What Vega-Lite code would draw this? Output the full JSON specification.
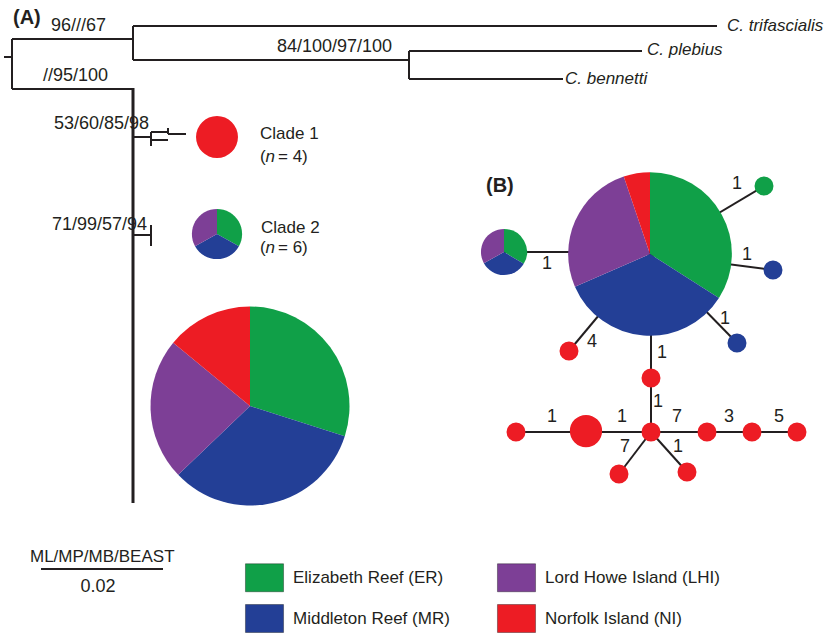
{
  "$schema": "https://vega.github.io/schema/vega-lite/v6.json",
  "width": 824,
  "height": 635,
  "padding": 0,
  "autosize": {"type": "fit", "contains": "padding"},
  "background": "white",
  "view": {"stroke": null},
  "config": {"text": {"font": "Liberation Sans", "color": "#231f20"}},
  "datasets": {
    "branches": [
      {"part": "tree", "x": 4, "y": 57, "x2": 12, "y2": 57},
      {"part": "tree", "x": 12, "y": 39, "x2": 12, "y2": 89},
      {"part": "tree", "x": 12, "y": 39, "x2": 133, "y2": 39},
      {"part": "tree", "x": 133, "y": 26, "x2": 133, "y2": 60},
      {"part": "tree", "x": 133, "y": 26, "x2": 717, "y2": 26},
      {"part": "tree", "x": 133, "y": 60, "x2": 409, "y2": 60},
      {"part": "tree", "x": 409, "y": 51, "x2": 409, "y2": 79},
      {"part": "tree", "x": 409, "y": 51, "x2": 642, "y2": 51},
      {"part": "tree", "x": 409, "y": 79, "x2": 563, "y2": 79},
      {"part": "tree", "x": 12, "y": 89, "x2": 133, "y2": 89},
      {"part": "trunk", "x": 133, "y": 88, "x2": 133, "y2": 503},
      {"part": "tree", "x": 133, "y": 137, "x2": 151, "y2": 137},
      {"part": "tree", "x": 151, "y": 132, "x2": 151, "y2": 146},
      {"part": "tree", "x": 151, "y": 132, "x2": 168, "y2": 132},
      {"part": "tree", "x": 151, "y": 140, "x2": 168, "y2": 140},
      {"part": "tree", "x": 168, "y": 128, "x2": 168, "y2": 134},
      {"part": "tree", "x": 168, "y": 134, "x2": 186, "y2": 134},
      {"part": "tree", "x": 133, "y": 235, "x2": 151, "y2": 235},
      {"part": "tree", "x": 151, "y": 225, "x2": 151, "y2": 246},
      {"part": "tree", "x": 41, "y": 569, "x2": 163, "y2": 569},
      {"part": "net", "x": 504, "y": 252, "x2": 650, "y2": 252},
      {"part": "net", "x": 650, "y": 254, "x2": 764, "y2": 186},
      {"part": "net", "x": 650, "y": 254, "x2": 773, "y2": 270},
      {"part": "net", "x": 650, "y": 254, "x2": 737, "y2": 343},
      {"part": "net", "x": 650, "y": 254, "x2": 569, "y2": 351},
      {"part": "net", "x": 651, "y": 254, "x2": 651, "y2": 432},
      {"part": "net", "x": 516, "y": 432, "x2": 797, "y2": 432},
      {"part": "net", "x": 651, "y": 432, "x2": 619, "y2": 474},
      {"part": "net", "x": 651, "y": 432, "x2": 687, "y2": 472}
    ],
    "slices": [
      {"pie": "A", "x": 250, "y": 406, "n": 99, "region": "Elizabeth Reef (ER)", "a0": 0, "a1": 107.7},
      {"pie": "A", "x": 250, "y": 406, "n": 99, "region": "Middleton Reef (MR)", "a0": 107.7, "a1": 226.2},
      {"pie": "A", "x": 250, "y": 406, "n": 99, "region": "Lord Howe Island (LHI)", "a0": 226.2, "a1": 309.5},
      {"pie": "A", "x": 250, "y": 406, "n": 99, "region": "Norfolk Island (NI)", "a0": 309.5, "a1": 360},
      {"pie": "C1", "x": 217, "y": 137, "n": 4.4, "region": "Norfolk Island (NI)", "a0": 0, "a1": 360},
      {"pie": "C2", "x": 217, "y": 234, "n": 6.3, "region": "Elizabeth Reef (ER)", "a0": 0, "a1": 119},
      {"pie": "C2", "x": 217, "y": 234, "n": 6.3, "region": "Middleton Reef (MR)", "a0": 119, "a1": 241},
      {"pie": "C2", "x": 217, "y": 234, "n": 6.3, "region": "Lord Howe Island (LHI)", "a0": 241, "a1": 360},
      {"pie": "H1", "x": 650, "y": 254, "n": 67, "region": "Elizabeth Reef (ER)", "a0": 0, "a1": 122.6},
      {"pie": "H1", "x": 650, "y": 254, "n": 67, "region": "Middleton Reef (MR)", "a0": 122.6, "a1": 246.5},
      {"pie": "H1", "x": 650, "y": 254, "n": 67, "region": "Lord Howe Island (LHI)", "a0": 246.5, "a1": 341.3},
      {"pie": "H1", "x": 650, "y": 254, "n": 67, "region": "Norfolk Island (NI)", "a0": 341.3, "a1": 360},
      {"pie": "H2", "x": 504, "y": 252, "n": 5.3, "region": "Elizabeth Reef (ER)", "a0": 0, "a1": 121},
      {"pie": "H2", "x": 504, "y": 252, "n": 5.3, "region": "Middleton Reef (MR)", "a0": 121, "a1": 241},
      {"pie": "H2", "x": 504, "y": 252, "n": 5.3, "region": "Lord Howe Island (LHI)", "a0": 241, "a1": 360},
      {"pie": "H3", "x": 764, "y": 186, "n": 0.9, "region": "Elizabeth Reef (ER)", "a0": 0, "a1": 360},
      {"pie": "H4", "x": 773, "y": 270, "n": 0.9, "region": "Middleton Reef (MR)", "a0": 0, "a1": 360},
      {"pie": "H5", "x": 737, "y": 343, "n": 0.9, "region": "Middleton Reef (MR)", "a0": 0, "a1": 360},
      {"pie": "H6", "x": 569, "y": 351, "n": 0.9, "region": "Norfolk Island (NI)", "a0": 0, "a1": 360},
      {"pie": "H7", "x": 651, "y": 378, "n": 0.9, "region": "Norfolk Island (NI)", "a0": 0, "a1": 360},
      {"pie": "H8", "x": 651, "y": 432, "n": 0.9, "region": "Norfolk Island (NI)", "a0": 0, "a1": 360},
      {"pie": "H9", "x": 586, "y": 431, "n": 2.6, "region": "Norfolk Island (NI)", "a0": 0, "a1": 360},
      {"pie": "H10", "x": 516, "y": 432, "n": 0.9, "region": "Norfolk Island (NI)", "a0": 0, "a1": 360},
      {"pie": "H11", "x": 707, "y": 432, "n": 0.9, "region": "Norfolk Island (NI)", "a0": 0, "a1": 360},
      {"pie": "H12", "x": 752, "y": 432, "n": 0.9, "region": "Norfolk Island (NI)", "a0": 0, "a1": 360},
      {"pie": "H13", "x": 797, "y": 432, "n": 0.9, "region": "Norfolk Island (NI)", "a0": 0, "a1": 360},
      {"pie": "H14", "x": 619, "y": 474, "n": 0.9, "region": "Norfolk Island (NI)", "a0": 0, "a1": 360},
      {"pie": "H15", "x": 687, "y": 472, "n": 0.9, "region": "Norfolk Island (NI)", "a0": 0, "a1": 360}
    ],
    "labels": [
      {"kind": "num", "x": 51, "y": 26, "text": "96///67"},
      {"kind": "num", "x": 43, "y": 76, "text": "//95/100"},
      {"kind": "num", "x": 277, "y": 47, "text": "84/100/97/100"},
      {"kind": "num", "x": 54, "y": 124, "text": "53/60/85/98"},
      {"kind": "num", "x": 52, "y": 225, "text": "71/99/57/94"},
      {"kind": "sp", "x": 727, "y": 26, "text": "C. trifascialis"},
      {"kind": "sp", "x": 647, "y": 50, "text": "C. plebius"},
      {"kind": "sp", "x": 565, "y": 79, "text": "C. bennetti"},
      {"kind": "plain", "x": 260, "y": 134, "text": "Clade 1"},
      {"kind": "plain", "x": 260, "y": 157, "text": "("},
      {"kind": "ital", "x": 265.5, "y": 157, "text": "n"},
      {"kind": "plain", "x": 278, "y": 157, "text": "= 4)"},
      {"kind": "plain", "x": 261, "y": 228, "text": "Clade 2"},
      {"kind": "plain", "x": 260, "y": 248, "text": "("},
      {"kind": "ital", "x": 265.5, "y": 248, "text": "n"},
      {"kind": "plain", "x": 278, "y": 248, "text": "= 6)"},
      {"kind": "plain", "x": 30, "y": 557, "text": "ML/MP/MB/BEAST"},
      {"kind": "center", "x": 98, "y": 587, "text": "0.02"},
      {"kind": "panel", "x": 13, "y": 18, "text": "(A)"},
      {"kind": "panel", "x": 486, "y": 186, "text": "(B)"},
      {"kind": "center", "x": 547, "y": 264, "text": "1"},
      {"kind": "center", "x": 737, "y": 184, "text": "1"},
      {"kind": "center", "x": 747, "y": 255, "text": "1"},
      {"kind": "center", "x": 725, "y": 319, "text": "1"},
      {"kind": "center", "x": 592, "y": 342, "text": "4"},
      {"kind": "center", "x": 662, "y": 353, "text": "1"},
      {"kind": "center", "x": 658, "y": 402, "text": "1"},
      {"kind": "center", "x": 552, "y": 417, "text": "1"},
      {"kind": "center", "x": 622, "y": 417, "text": "1"},
      {"kind": "center", "x": 677, "y": 417, "text": "7"},
      {"kind": "center", "x": 729, "y": 417, "text": "3"},
      {"kind": "center", "x": 779, "y": 417, "text": "5"},
      {"kind": "center", "x": 625, "y": 447, "text": "7"},
      {"kind": "center", "x": 678, "y": 447, "text": "1"}
    ]
  },
  "encoding": {
    "x": {"field": "x", "type": "quantitative", "axis": null, "scale": {"domain": [0, 824], "nice": false, "zero": false}},
    "y": {"field": "y", "type": "quantitative", "axis": null, "scale": {"domain": [0, 635], "nice": false, "zero": false, "reverse": true}}
  },
  "layer": [
    {
      "data": {"name": "branches"},
      "transform": [{"filter": "datum.part != 'trunk'"}],
      "mark": {"type": "rule", "color": "#231f20", "strokeWidth": 2},
      "encoding": {"x2": {"field": "x2"}, "y2": {"field": "y2"}}
    },
    {
      "data": {"name": "branches"},
      "transform": [{"filter": "datum.part == 'trunk'"}],
      "mark": {"type": "rule", "color": "#231f20", "strokeWidth": 3},
      "encoding": {"x2": {"field": "x2"}, "y2": {"field": "y2"}}
    },
    {
      "data": {"name": "slices"},
      "mark": {"type": "arc"},
      "encoding": {
        "theta": {"field": "a0", "type": "quantitative", "stack": null, "scale": {"domain": [0, 360], "range": [0, 6.283185307]}},
        "theta2": {"field": "a1"},
        "radius": {"field": "n", "type": "quantitative", "scale": {"type": "sqrt", "domain": [0, 100], "range": [0, 100], "zero": true}},
        "color": {
          "field": "region", "type": "nominal",
          "scale": {"domain": ["Elizabeth Reef (ER)", "Middleton Reef (MR)", "Lord Howe Island (LHI)", "Norfolk Island (NI)"], "range": ["#10a048", "#233f96", "#7d3f96", "#ed1c24"]},
          "legend": {
            "orient": "none", "legendX": 250, "legendY": 563, "columns": 2, "title": null,
            "symbolType": "M-1.36,-1H1.36V1H-1.36Z", "symbolSize": 784, "symbolOpacity": 1,
            "symbolStrokeColor": "rgba(0,0,0,0.35)", "symbolStrokeWidth": 1,
            "labelFont": "Liberation Sans", "labelFontSize": 17, "labelColor": "#231f20",
            "labelOffset": 14, "columnPadding": 45, "rowPadding": 8, "labelLimit": 300
          }
        }
      }
    },
    {
      "data": {"name": "labels"},
      "transform": [{"filter": "datum.kind == 'num'"}],
      "mark": {"type": "text", "align": "left", "baseline": "middle", "fontSize": 18},
      "encoding": {"text": {"field": "text"}}
    },
    {
      "data": {"name": "labels"},
      "transform": [{"filter": "datum.kind == 'sp' || datum.kind == 'ital'"}],
      "mark": {"type": "text", "align": "left", "baseline": "middle", "fontSize": 17, "fontStyle": "italic"},
      "encoding": {"text": {"field": "text"}}
    },
    {
      "data": {"name": "labels"},
      "transform": [{"filter": "datum.kind == 'plain'"}],
      "mark": {"type": "text", "align": "left", "baseline": "middle", "fontSize": 17},
      "encoding": {"text": {"field": "text"}}
    },
    {
      "data": {"name": "labels"},
      "transform": [{"filter": "datum.kind == 'panel'"}],
      "mark": {"type": "text", "align": "left", "baseline": "middle", "fontSize": 20, "fontWeight": "bold"},
      "encoding": {"text": {"field": "text"}}
    },
    {
      "data": {"name": "labels"},
      "transform": [{"filter": "datum.kind == 'center'"}],
      "mark": {"type": "text", "align": "center", "baseline": "middle", "fontSize": 18},
      "encoding": {"text": {"field": "text"}}
    }
  ]
}
